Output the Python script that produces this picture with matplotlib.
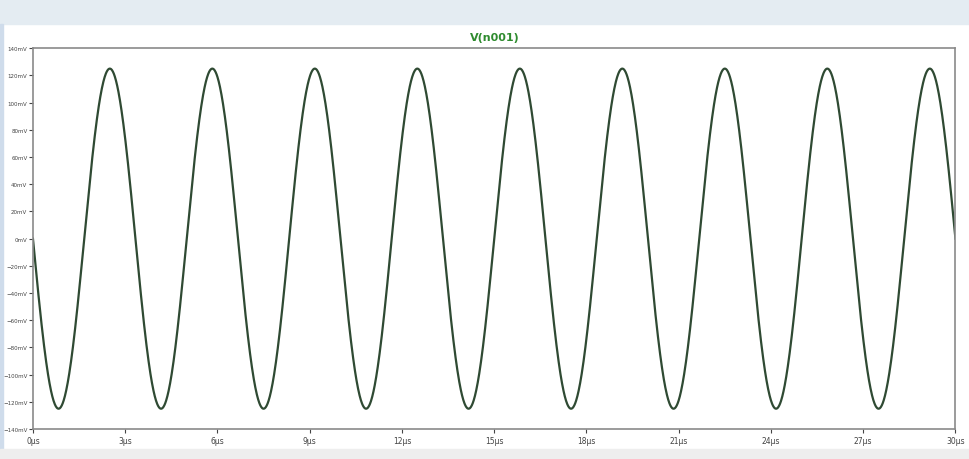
import numpy as np
import matplotlib.pyplot as plt
from matplotlib.patches import Rectangle

# transient trace
trace_name = "V(n001)"
t_stop_us = 30.0          # x axis end
amp_mv = 125.0            # peak value of the wave
freq_khz = 300.0          # 9 full periods over 30 us
x_ticks_us = [0, 3, 6, 9, 12, 15, 18, 21, 24, 27, 30]
y_ticks_mv = [-140, -120, -100, -80, -60, -40, -20, 0, 20, 40, 60, 80, 100, 120, 140]

t_us = np.linspace(0, t_stop_us, 3000)
v_mv = -amp_mv * np.sin(2 * np.pi * freq_khz * 1e-3 * t_us)

fig = plt.figure(figsize=(9.69, 4.60), dpi=100)
fig.patch.set_facecolor("white")

# window decoration of the screenshot
fig.patches.append(Rectangle((0, 0.945), 1, 0.055, transform=fig.transFigure,
                             color="#e4ecf2", zorder=0))
fig.patches.append(Rectangle((0.0, 0.02), 0.003, 0.925, transform=fig.transFigure,
                             color="#cfdceb", zorder=0))
fig.patches.append(Rectangle((0, 0), 1, 0.022, transform=fig.transFigure,
                             color="#eeeeee", zorder=0))
fig.text(0.511, 0.918, trace_name, color="#2e8b2e", fontsize=8,
         ha="center", va="center", fontweight="bold")

ax = fig.add_axes([0.034, 0.065, 0.952, 0.828])
ax.plot(t_us, v_mv, color="#2f4a33", linewidth=1.6)

ax.set_xlim(0, t_stop_us)
ax.set_ylim(-140, 140)
ax.set_xticks(x_ticks_us)
ax.set_xticklabels([f"{x}µs" for x in x_ticks_us])
ax.set_yticks(y_ticks_mv)
ax.set_yticklabels([f"{y}mV".replace("-", "\u2212") for y in y_ticks_mv])
ax.tick_params(axis="y", labelsize=4, colors="#444444", length=3, width=0.8, pad=1)
ax.tick_params(axis="x", labelsize=5.5, colors="#444444", length=3, width=0.8, pad=2)
for s in ax.spines.values():
    s.set_color("#8a8a8a")
    s.set_linewidth(1.2)

fig.savefig("out.png", dpi=100)
